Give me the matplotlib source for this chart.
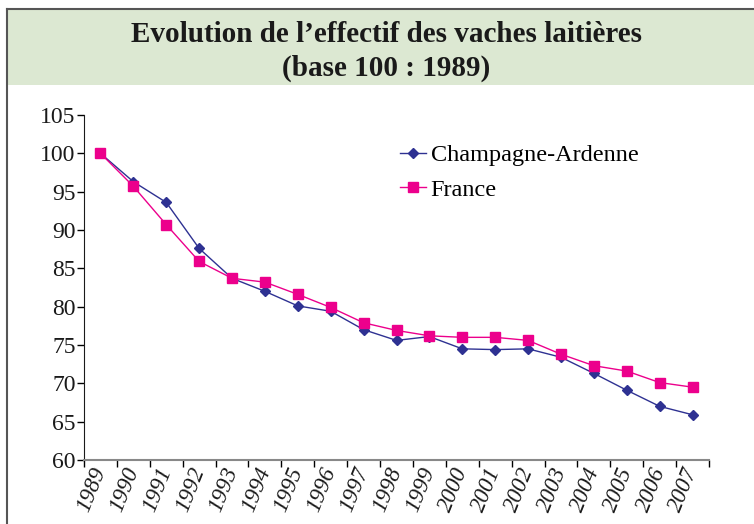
import matplotlib
matplotlib.use("Agg")
import matplotlib.pyplot as plt
from matplotlib.patches import Rectangle
from matplotlib.lines import Line2D

years = [str(y) for y in range(1989, 2008)]
champagne = [100, 96.3, 93.6, 87.6, 83.7, 82.0, 80.1, 79.4, 77.0, 75.6,
             76.1, 74.5, 74.4, 74.5, 73.4, 71.3, 69.1, 67.0, 65.9]
france = [100, 95.7, 90.7, 85.9, 83.7, 83.2, 81.6, 79.9, 77.9, 76.9,
          76.2, 76.0, 76.0, 75.6, 73.8, 72.3, 71.6, 70.1, 69.5]
yticks = list(range(60, 106, 5))

plt.rcParams['font.family'] = ['Liberation Serif', 'DejaVu Serif']

W, H = 754, 524
fig = plt.figure(figsize=(W / 100, H / 100), dpi=100)

def fx(px):
    return px / W

def fy(py):
    return 1 - py / H

# title band
fig.patches.append(Rectangle((fx(8), fy(85)), 1 - fx(8), fy(10) - fy(85),
                             transform=fig.transFigure, facecolor='#dce8d2',
                             edgecolor='none', zorder=0))
fig.lines.append(Line2D([fx(7), 1], [fy(9), fy(9)], transform=fig.transFigure,
                        color='#555555', lw=1.5))
fig.lines.append(Line2D([fx(7), fx(7)], [fy(9), 0], transform=fig.transFigure,
                        color='#555555', lw=1.5))

fig.text(fx(386), fy(34), "Evolution de l\u2019effectif des vaches laitières",
         ha='center', va='center', fontsize=21, fontweight='bold', color='#1a1a1a')
fig.text(fx(386), fy(68), "(base 100 : 1989)",
         ha='center', va='center', fontsize=21, fontweight='bold', color='#1a1a1a')

ax = fig.add_axes([fx(84), fy(460), fx(709) - fx(84), fy(115) - fy(460)])
x = list(range(len(years)))
ax.plot(x, champagne, color='#2e3192', lw=1.0, marker='D', markersize=5,
        label='Champagne-Ardenne')
ax.plot(x, france, color='#ec008c', lw=1.0, marker='s', markersize=6.5,
        label='France')

ax.set_xlim(-0.5, len(years) - 0.5)
ax.set_ylim(60, 105)
ax.set_yticks(yticks)
ax.set_yticklabels([str(v) for v in yticks], fontsize=17, color='#1a1a1a')
ax.tick_params(axis='y', direction='out', length=5, width=1, pad=1)

ax.set_xticks([i - 0.5 for i in range(len(years) + 1)])
ax.set_xticklabels([])
ax.set_xticks(x, minor=True)
ax.set_xticklabels(years, minor=True, rotation=68, ha='right', va='center',
                   rotation_mode='anchor', fontsize=16.5, fontstyle='italic',
                   color='#1a1a1a')
ax.tick_params(axis='x', which='major', direction='out', length=5, width=1)
ax.tick_params(axis='x', which='minor', length=0, pad=6)

for s in ['top', 'right']:
    ax.spines[s].set_visible(False)
ax.spines['left'].set_color('#1a1a1a')
ax.spines['bottom'].set_color('#888888')
ax.spines['bottom'].set_linewidth(1.5)

ax.legend(loc='upper left', bbox_to_anchor=(0.506, 0.915), frameon=False,
          fontsize=17.5, handlelength=1.05, handletextpad=0.2, labelspacing=0.52,
          borderpad=0, borderaxespad=0)

fig.savefig('out.png', dpi=100)
